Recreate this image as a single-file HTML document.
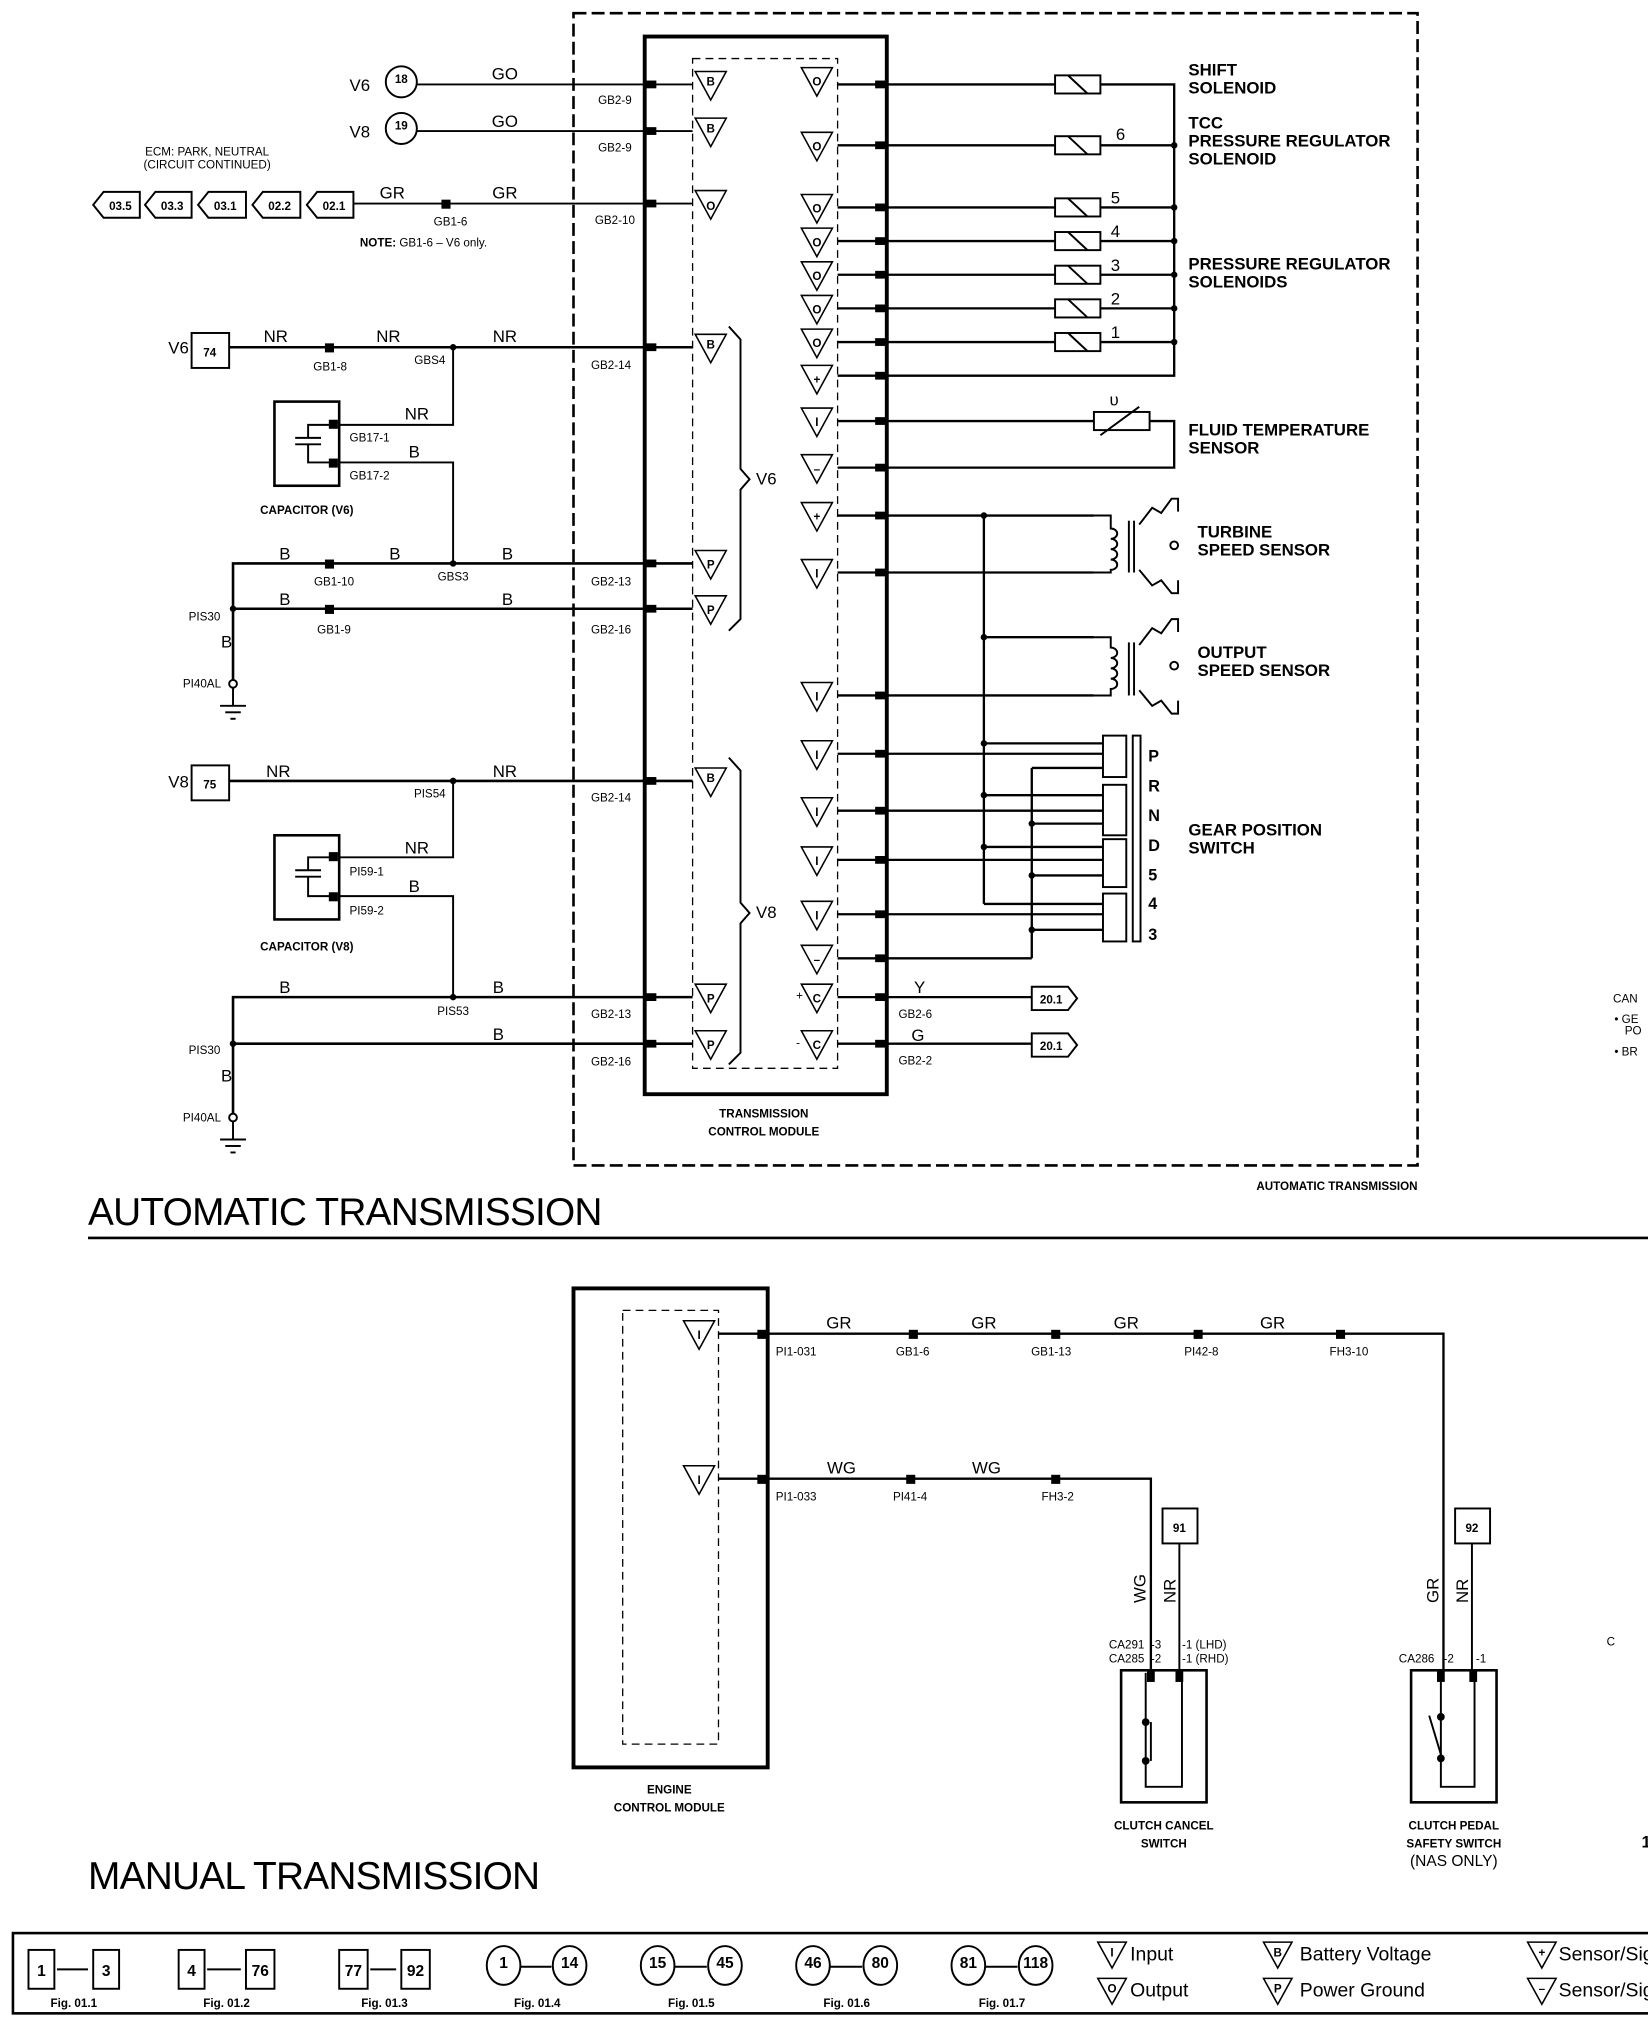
<!DOCTYPE html>
<html><head><meta charset="utf-8"><style>
html,body{margin:0;padding:0;background:#fff}
svg{display:block}
text{font-family:"Liberation Sans",sans-serif;font-weight:bold;fill:#000}
.s{font-size:9px;font-weight:normal}
.m{font-size:13px}
.l{font-size:13px}
.t{font-size:9px;font-weight:bold}
</style></head><body>
<svg width="1648" height="2024" viewBox="0 0 1273 1563" xmlns="http://www.w3.org/2000/svg">
<rect width="1273" height="1563" fill="#fff"/>
<g stroke="#000" fill="none" stroke-width="1.5">
<rect x="443" y="10" width="652" height="890" stroke-dasharray="10,4" stroke-width="2"/>
<rect x="498" y="28" width="187" height="817" stroke-width="3"/>
<rect x="535" y="45" width="112" height="780" stroke-dasharray="6,4" stroke-width="1"/>
<line x1="322" y1="65" x2="535" y2="65"/>
<line x1="322" y1="101" x2="535" y2="101"/>
<line x1="273" y1="157" x2="535" y2="157"/>
<line x1="177" y1="268" x2="535" y2="268" stroke-width="2"/>
<polyline points="262,328 350,328 350,268"/>
<polyline points="262,357 350,357 350,435"/>
<polyline points="180,525 180,435 535,435" stroke-width="2"/>
<line x1="180" y1="470" x2="535" y2="470" stroke-width="2"/>
<line x1="177" y1="603" x2="535" y2="603" stroke-width="2"/>
<polyline points="262,662 350,662 350,603"/>
<polyline points="262,692 350,692 350,770"/>
<polyline points="180,860 180,770 535,770" stroke-width="2"/>
<line x1="180" y1="806" x2="535" y2="806" stroke-width="2"/>
<circle cx="180" cy="528" r="3"/>
<line x1="180" y1="531" x2="180" y2="545"/><line x1="170" y1="545" x2="190" y2="545"/><line x1="174" y1="550" x2="186" y2="550"/><line x1="178" y1="555" x2="182" y2="555"/>
<circle cx="180" cy="863" r="3"/>
<line x1="180" y1="866" x2="180" y2="880"/><line x1="170" y1="880" x2="190" y2="880"/><line x1="174" y1="885" x2="186" y2="885"/><line x1="178" y1="890" x2="182" y2="890"/>
<rect x="212" y="310" width="50" height="65" stroke-width="2"/>
<rect x="212" y="645" width="50" height="65" stroke-width="2"/>
<polyline points="258,328 238,328 238,338"/><line x1="228" y1="338" x2="248" y2="338"/><line x1="228" y1="343" x2="248" y2="343"/><polyline points="238,343 238,357 258,357"/>
<polyline points="258,662 238,662 238,672"/><line x1="228" y1="672" x2="248" y2="672"/><line x1="228" y1="677" x2="248" y2="677"/><polyline points="238,677 238,692 258,692"/>
<circle cx="310" cy="63" r="12"/><circle cx="310" cy="99" r="12"/>
<rect x="148" y="257" width="29" height="27"/><rect x="148" y="591" width="29" height="27"/>
<polygon points="72,158 80,148 108,148 108,168 80,168"/>
<polygon points="112,158 120,148 148,148 148,168 120,168"/>
<polygon points="153,158 161,148 190,148 190,168 161,168"/>
<polygon points="195,158 203,148 232,148 232,168 203,168"/>
<polygon points="237,158 245,148 273,148 273,168 245,168"/>
<polyline points="563,252 572,262 572,362 579,370 572,378 572,478 563,487"/>
<polyline points="563,585 572,595 572,697 579,705 572,713 572,813 563,822"/>
<g stroke-width="1.8">
<polyline points="647,65 815,65"/><polyline points="850,65 907,65 907,290 647,290"/>
<line x1="647" y1="112" x2="815" y2="112"/><line x1="850" y1="112" x2="907" y2="112"/>
<line x1="647" y1="160" x2="815" y2="160"/><line x1="850" y1="160" x2="907" y2="160"/>
<line x1="647" y1="186" x2="815" y2="186"/><line x1="850" y1="186" x2="907" y2="186"/>
<line x1="647" y1="212" x2="815" y2="212"/><line x1="850" y1="212" x2="907" y2="212"/>
<line x1="647" y1="238" x2="815" y2="238"/><line x1="850" y1="238" x2="907" y2="238"/>
<line x1="647" y1="264" x2="815" y2="264"/><line x1="850" y1="264" x2="907" y2="264"/>
<line x1="647" y1="325" x2="845" y2="325"/><polyline points="888,325 907,325 907,361 647,361"/>
<line x1="647" y1="398" x2="845" y2="398"/>
<line x1="647" y1="442" x2="845" y2="442"/>
<line x1="760" y1="398" x2="760" y2="698"/>
<line x1="760" y1="492" x2="845" y2="492"/>
<line x1="647" y1="537" x2="845" y2="537"/>
<line x1="647" y1="582" x2="852" y2="582"/>
<line x1="760" y1="574" x2="852" y2="574"/>
<line x1="797" y1="593" x2="852" y2="593"/>
<line x1="797" y1="593" x2="797" y2="740"/>
<line x1="647" y1="626" x2="852" y2="626"/>
<line x1="760" y1="614" x2="852" y2="614"/>
<line x1="797" y1="636" x2="852" y2="636"/>
<line x1="647" y1="664" x2="852" y2="664"/>
<line x1="760" y1="654" x2="852" y2="654"/>
<line x1="797" y1="676" x2="852" y2="676"/>
<line x1="760" y1="698" x2="852" y2="698"/>
<line x1="647" y1="706" x2="852" y2="706"/>
<line x1="797" y1="718" x2="852" y2="718"/>
<line x1="647" y1="740" x2="797" y2="740"/>
<line x1="647" y1="770" x2="797" y2="770"/>
<line x1="647" y1="806" x2="797" y2="806"/>
</g>
<g stroke-width="1.5">
<rect x="815" y="58" width="35" height="14"/><line x1="825" y1="58" x2="840" y2="72"/>
<rect x="815" y="105" width="35" height="14"/><line x1="825" y1="105" x2="840" y2="119"/>
<rect x="815" y="153" width="35" height="14"/><line x1="825" y1="153" x2="840" y2="167"/>
<rect x="815" y="179" width="35" height="14"/><line x1="825" y1="179" x2="840" y2="193"/>
<rect x="815" y="205" width="35" height="14"/><line x1="825" y1="205" x2="840" y2="219"/>
<rect x="815" y="231" width="35" height="14"/><line x1="825" y1="231" x2="840" y2="245"/>
<rect x="815" y="257" width="35" height="14"/><line x1="825" y1="257" x2="840" y2="271"/>
<rect x="845" y="318" width="43" height="14"/><line x1="850" y1="336" x2="880" y2="314"/>
</g>
<path d="M845,398 L858,398 L858,408 a5,4 0 1 1 0,8 a5,4 0 1 1 0,8 a5,4 0 1 1 0,8 a5,4 0 1 1 0,8 L858,442 L845,442"/>
<path d="M845,492 L858,492 L858,500 a5,4 0 1 1 0,8 a5,4 0 1 1 0,8 a5,4 0 1 1 0,8 a5,4 0 1 1 0,8 L858,537 L845,537"/>
<line x1="872" y1="402" x2="872" y2="442"/><line x1="876" y1="402" x2="876" y2="442"/>
<line x1="872" y1="496" x2="872" y2="537"/><line x1="876" y1="496" x2="876" y2="537"/>
<path d="M880,405 L890,392 L897,396 L905,385 L910,385 L910,395 M880,440 L890,452 L897,448 L905,458 L910,458 L910,448"/>
<path d="M880,498 L890,485 L897,489 L905,478 L910,478 L910,488 M880,533 L890,545 L897,541 L905,551 L910,551 L910,541"/>
<circle cx="907" cy="421" r="3"/><circle cx="907" cy="514" r="3"/>
<rect x="852" y="568" width="18" height="32"/>
<rect x="852" y="606" width="18" height="39"/>
<rect x="852" y="648" width="18" height="37"/>
<rect x="852" y="690" width="18" height="37"/>
<rect x="875" y="568" width="6" height="159"/>
<polygon points="797,762 825,762 832,771 825,780 797,780"/>
<polygon points="797,798 825,798 832,807 825,816 797,816"/>
<g stroke-width="1.2">
<polygon points="537,55 561,55 549,77"/><polygon points="537,91 561,91 549,113"/><polygon points="537,147 561,147 549,169"/>
<polygon points="537,258 561,258 549,280"/><polygon points="537,425 561,425 549,447"/><polygon points="537,460 561,460 549,482"/>
<polygon points="537,593 561,593 549,615"/><polygon points="537,760 561,760 549,782"/><polygon points="537,796 561,796 549,818"/>
<polygon points="619,52 643,52 631,74"/><polygon points="619,102 643,102 631,124"/><polygon points="619,150 643,150 631,172"/>
<polygon points="619,176 643,176 631,198"/><polygon points="619,202 643,202 631,224"/><polygon points="619,228 643,228 631,250"/>
<polygon points="619,254 643,254 631,276"/><polygon points="619,282 643,282 631,304"/><polygon points="619,315 643,315 631,337"/>
<polygon points="619,351 643,351 631,373"/><polygon points="619,388 643,388 631,410"/><polygon points="619,432 643,432 631,454"/>
<polygon points="619,527 643,527 631,549"/><polygon points="619,572 643,572 631,594"/><polygon points="619,616 643,616 631,638"/>
<polygon points="619,654 643,654 631,676"/><polygon points="619,696 643,696 631,718"/><polygon points="619,730 643,730 631,752"/>
<polygon points="619,760 643,760 631,782"/><polygon points="619,796 643,796 631,818"/>
</g>
<line x1="68" y1="956" x2="1273" y2="956" stroke-width="2"/>
<rect x="443" y="995" width="150" height="370" stroke-width="3"/>
<rect x="481" y="1012" width="74" height="335" stroke-dasharray="6,4" stroke-width="1"/>
<polygon points="528,1020 552,1020 540,1042" stroke-width="1.2"/>
<polygon points="528,1132 552,1132 540,1154" stroke-width="1.2"/>
<polyline points="555,1030 1115,1030 1115,1290" stroke-width="1.8"/>
<polyline points="555,1142 889,1142 889,1290" stroke-width="1.8"/>
<rect x="898" y="1165" width="27" height="27"/><line x1="911" y1="1192" x2="911" y2="1290"/>
<rect x="1124" y="1165" width="27" height="27"/><line x1="1137" y1="1192" x2="1137" y2="1290"/>
<rect x="866" y="1290" width="66" height="102" stroke-width="2"/>
<polyline points="885,1292 885,1380 913,1380 913,1292" stroke-width="1.5"/>
<line x1="889" y1="1330" x2="889" y2="1360"/>
<rect x="1090" y="1290" width="66" height="102" stroke-width="2"/>
<polyline points="1113,1292 1113,1380 1139,1380 1139,1292" stroke-width="1.5"/>
<line x1="1104" y1="1325" x2="1113" y2="1355"/>
<rect x="10" y="1493" width="1270" height="62" stroke-width="2"/>
<rect x="22" y="1506" width="20" height="30"/><rect x="72" y="1506" width="20" height="30"/><line x1="44" y1="1521" x2="68" y2="1521"/>
<rect x="138" y="1506" width="20" height="30"/><rect x="190" y="1506" width="22" height="30"/><line x1="160" y1="1521" x2="186" y2="1521"/>
<rect x="262" y="1506" width="22" height="30"/><rect x="310" y="1506" width="22" height="30"/><line x1="286" y1="1521" x2="306" y2="1521"/>
<ellipse cx="389" cy="1518" rx="13" ry="15"/><ellipse cx="440" cy="1518" rx="13" ry="15"/><line x1="402" y1="1519" x2="426" y2="1519"/>
<ellipse cx="508" cy="1518" rx="13" ry="15"/><ellipse cx="560" cy="1518" rx="13" ry="15"/><line x1="521" y1="1519" x2="546" y2="1519"/>
<ellipse cx="628" cy="1518" rx="13" ry="15"/><ellipse cx="680" cy="1518" rx="13" ry="15"/><line x1="641" y1="1519" x2="666" y2="1519"/>
<ellipse cx="748" cy="1518" rx="13" ry="15"/><ellipse cx="800" cy="1518" rx="13" ry="15"/><line x1="761" y1="1519" x2="786" y2="1519"/>
<polygon points="848,1500 870,1500 859,1520" stroke-width="1.2"/><polygon points="848,1528 870,1528 859,1548" stroke-width="1.2"/>
<polygon points="976,1500 998,1500 987,1520" stroke-width="1.2"/><polygon points="976,1528 998,1528 987,1548" stroke-width="1.2"/>
<polygon points="1180,1500 1202,1500 1191,1520" stroke-width="1.2"/><polygon points="1180,1528 1202,1528 1191,1548" stroke-width="1.2"/>
</g>
<g fill="#000">
<rect x="499" y="62" width="8" height="6"/><rect x="499" y="98" width="8" height="6"/><rect x="499" y="154" width="8" height="6"/>
<rect x="499" y="265" width="8" height="6"/><rect x="499" y="432" width="8" height="6"/><rect x="499" y="467" width="8" height="6"/>
<rect x="499" y="600" width="8" height="6"/><rect x="499" y="767" width="8" height="6"/><rect x="499" y="803" width="8" height="6"/>
<rect x="676" y="62" width="8" height="6"/><rect x="676" y="109" width="8" height="6"/><rect x="676" y="157" width="8" height="6"/>
<rect x="676" y="183" width="8" height="6"/><rect x="676" y="209" width="8" height="6"/><rect x="676" y="235" width="8" height="6"/>
<rect x="676" y="261" width="8" height="6"/><rect x="676" y="287" width="8" height="6"/><rect x="676" y="322" width="8" height="6"/>
<rect x="676" y="358" width="8" height="6"/><rect x="676" y="395" width="8" height="6"/><rect x="676" y="439" width="8" height="6"/>
<rect x="676" y="534" width="8" height="6"/><rect x="676" y="579" width="8" height="6"/><rect x="676" y="623" width="8" height="6"/>
<rect x="676" y="661" width="8" height="6"/><rect x="676" y="703" width="8" height="6"/><rect x="676" y="737" width="8" height="6"/>
<rect x="676" y="767" width="8" height="6"/><rect x="676" y="803" width="8" height="6"/>
<rect x="341" y="154" width="7" height="7"/><rect x="251" y="265" width="7" height="7"/><rect x="251" y="432" width="7" height="7"/><rect x="251" y="467" width="7" height="7"/>
<rect x="254" y="324" width="7" height="7"/><rect x="254" y="354" width="7" height="7"/><rect x="254" y="658" width="7" height="7"/><rect x="254" y="689" width="7" height="7"/>
<circle cx="350" cy="268" r="2.5"/><circle cx="350" cy="435" r="2.5"/><circle cx="180" cy="470" r="2.5"/>
<circle cx="350" cy="603" r="2.5"/><circle cx="350" cy="770" r="2.5"/><circle cx="180" cy="806" r="2.5"/>
<circle cx="907" cy="112" r="2.5"/><circle cx="907" cy="160" r="2.5"/><circle cx="907" cy="186" r="2.5"/><circle cx="907" cy="212" r="2.5"/><circle cx="907" cy="238" r="2.5"/><circle cx="907" cy="264" r="2.5"/>
<circle cx="760" cy="398" r="2.5"/><circle cx="760" cy="492" r="2.5"/><circle cx="760" cy="574" r="2.5"/><circle cx="760" cy="614" r="2.5"/><circle cx="760" cy="654" r="2.5"/>
<circle cx="797" cy="636" r="2.5"/><circle cx="797" cy="676" r="2.5"/><circle cx="797" cy="718" r="2.5"/>
<rect x="585" y="1027" width="7" height="7"/><rect x="585" y="1139" width="7" height="7"/>
<rect x="702" y="1027" width="7" height="7"/><rect x="812" y="1027" width="7" height="7"/><rect x="922" y="1027" width="7" height="7"/><rect x="1032" y="1027" width="7" height="7"/>
<rect x="700" y="1139" width="7" height="7"/><rect x="812" y="1139" width="7" height="7"/>
<rect x="886" y="1290" width="6" height="9"/><rect x="908" y="1290" width="6" height="9"/><rect x="1110" y="1290" width="6" height="9"/><rect x="1135" y="1290" width="6" height="9"/>
<circle cx="885" cy="1330" r="3"/><circle cx="885" cy="1360" r="3"/><circle cx="1113" cy="1326" r="3"/><circle cx="1113" cy="1358" r="3"/>
</g>
<text x="270" y="70" class="m" style="font-weight:normal">V6</text>
<text x="270" y="106" class="m" style="font-weight:normal">V8</text>
<text x="310" y="64" class="t" text-anchor="middle" font-size="11">18</text>
<text x="310" y="100" class="t" text-anchor="middle" font-size="11">19</text>
<text x="390" y="61" class="m" text-anchor="middle" style="font-weight:normal">GO</text>
<text x="390" y="98" class="m" text-anchor="middle" style="font-weight:normal">GO</text>
<text x="160" y="120" class="s" text-anchor="middle">ECM: PARK, NEUTRAL</text>
<text x="160" y="130" class="s" text-anchor="middle">(CIRCUIT CONTINUED)</text>
<text x="93" y="162" class="t" text-anchor="middle">03.5</text><text x="133" y="162" class="t" text-anchor="middle">03.3</text>
<text x="174" y="162" class="t" text-anchor="middle">03.1</text><text x="216" y="162" class="t" text-anchor="middle">02.2</text><text x="258" y="162" class="t" text-anchor="middle">02.1</text>
<text x="303" y="153" class="m" text-anchor="middle" style="font-weight:normal">GR</text>
<text x="390" y="153" class="m" text-anchor="middle" style="font-weight:normal">GR</text>
<text x="348" y="174" class="s" text-anchor="middle">GB1-6</text>
<text x="278" y="190" class="s"><tspan font-weight="bold">NOTE:</tspan> GB1-6 – V6 only.</text>
<text x="475" y="80" class="s" text-anchor="middle">GB2-9</text><text x="475" y="117" class="s" text-anchor="middle">GB2-9</text>
<text x="475" y="173" class="s" text-anchor="middle">GB2-10</text>
<text x="130" y="273" class="m" style="font-weight:normal">V6</text><text x="162" y="275" class="t" text-anchor="middle" font-size="12">74</text>
<text x="213" y="264" class="m" text-anchor="middle" style="font-weight:normal">NR</text><text x="300" y="264" class="m" text-anchor="middle" style="font-weight:normal">NR</text><text x="390" y="264" class="m" text-anchor="middle" style="font-weight:normal">NR</text>
<text x="255" y="286" class="s" text-anchor="middle">GB1-8</text><text x="332" y="281" class="s" text-anchor="middle">GBS4</text><text x="472" y="285" class="s" text-anchor="middle">GB2-14</text>
<text x="322" y="324" class="m" text-anchor="middle" style="font-weight:normal">NR</text><text x="320" y="353" class="m" text-anchor="middle" style="font-weight:normal">B</text>
<text x="270" y="341" class="s">GB17-1</text><text x="270" y="370" class="s">GB17-2</text>
<text x="237" y="397" class="t" text-anchor="middle" font-size="12">CAPACITOR (V6)</text>
<text x="220" y="432" class="m" text-anchor="middle" style="font-weight:normal">B</text><text x="305" y="432" class="m" text-anchor="middle" style="font-weight:normal">B</text><text x="392" y="432" class="m" text-anchor="middle" style="font-weight:normal">B</text>
<text x="258" y="452" class="s" text-anchor="middle">GB1-10</text><text x="350" y="448" class="s" text-anchor="middle">GBS3</text><text x="472" y="452" class="s" text-anchor="middle">GB2-13</text>
<text x="220" y="467" class="m" text-anchor="middle" style="font-weight:normal">B</text><text x="392" y="467" class="m" text-anchor="middle" style="font-weight:normal">B</text>
<text x="258" y="489" class="s" text-anchor="middle">GB1-9</text><text x="472" y="489" class="s" text-anchor="middle">GB2-16</text>
<text x="158" y="479" class="s" text-anchor="middle">PIS30</text><text x="175" y="500" class="m" text-anchor="middle" style="font-weight:normal">B</text>
<text x="156" y="531" class="s" text-anchor="middle">PI40AL</text>
<text x="130" y="608" class="m" style="font-weight:normal">V8</text><text x="162" y="609" class="t" text-anchor="middle" font-size="12">75</text>
<text x="215" y="600" class="m" text-anchor="middle" style="font-weight:normal">NR</text><text x="390" y="600" class="m" text-anchor="middle" style="font-weight:normal">NR</text>
<text x="332" y="616" class="s" text-anchor="middle">PIS54</text><text x="472" y="619" class="s" text-anchor="middle">GB2-14</text>
<text x="322" y="659" class="m" text-anchor="middle" style="font-weight:normal">NR</text><text x="320" y="689" class="m" text-anchor="middle" style="font-weight:normal">B</text>
<text x="270" y="676" class="s">PI59-1</text><text x="270" y="706" class="s">PI59-2</text>
<text x="237" y="734" class="t" text-anchor="middle" font-size="12">CAPACITOR (V8)</text>
<text x="220" y="767" class="m" text-anchor="middle" style="font-weight:normal">B</text><text x="385" y="767" class="m" text-anchor="middle" style="font-weight:normal">B</text>
<text x="350" y="784" class="s" text-anchor="middle">PIS53</text><text x="472" y="786" class="s" text-anchor="middle">GB2-13</text>
<text x="385" y="803" class="m" text-anchor="middle" style="font-weight:normal">B</text><text x="472" y="823" class="s" text-anchor="middle">GB2-16</text>
<text x="158" y="814" class="s" text-anchor="middle">PIS30</text><text x="175" y="835" class="m" text-anchor="middle" style="font-weight:normal">B</text>
<text x="156" y="866" class="s" text-anchor="middle">PI40AL</text>
<text x="584" y="374" class="m" style="font-weight:normal">V6</text><text x="584" y="709" class="m" style="font-weight:normal">V8</text>
<g font-size="9" text-anchor="middle">
<text x="549" y="66">B</text><text x="549" y="102">B</text><text x="549" y="162">O</text><text x="549" y="269">B</text>
<text x="549" y="439">P</text><text x="549" y="474">P</text><text x="549" y="604">B</text><text x="549" y="774">P</text><text x="549" y="810">P</text>
<text x="631" y="66">O</text><text x="631" y="116">O</text><text x="631" y="164">O</text><text x="631" y="190">O</text><text x="631" y="216">O</text><text x="631" y="242">O</text><text x="631" y="268">O</text>
<text x="631" y="296">+</text><text x="631" y="329">I</text><text x="631" y="365">–</text><text x="631" y="402">+</text><text x="631" y="446">I</text>
<text x="631" y="541">I</text><text x="631" y="586">I</text><text x="631" y="630">I</text><text x="631" y="668">I</text><text x="631" y="710">I</text><text x="631" y="744">–</text>
<text x="631" y="774">C</text><text x="631" y="810">C</text>
<text x="540" y="1034">I</text><text x="540" y="1146">I</text>
</g>
<text x="615" y="772" class="s">+</text><text x="615" y="808" class="s">-</text>
<text x="862" y="108" class="m" style="font-weight:normal">6</text><text x="858" y="157" class="m" style="font-weight:normal">5</text>
<text x="858" y="183" class="m" style="font-weight:normal">4</text><text x="858" y="209" class="m" style="font-weight:normal">3</text>
<text x="858" y="235" class="m" style="font-weight:normal">2</text><text x="858" y="261" class="m" style="font-weight:normal">1</text>
<text x="857" y="313" class="m" style="font-weight:normal">υ</text>
<g class="l" font-size="12.5">
<text x="918" y="58">SHIFT</text><text x="918" y="72">SOLENOID</text>
<text x="918" y="99">TCC</text><text x="918" y="113">PRESSURE REGULATOR</text><text x="918" y="127">SOLENOID</text>
<text x="918" y="208">PRESSURE REGULATOR</text><text x="918" y="222">SOLENOIDS</text>
<text x="918" y="336">FLUID TEMPERATURE</text><text x="918" y="350">SENSOR</text>
<text x="925" y="415">TURBINE</text><text x="925" y="429">SPEED SENSOR</text>
<text x="925" y="508">OUTPUT</text><text x="925" y="522">SPEED SENSOR</text>
<text x="918" y="645">GEAR POSITION</text><text x="918" y="659">SWITCH</text>
</g>
<g font-size="12.5"><text x="887" y="588">P</text><text x="887" y="611">R</text><text x="887" y="634">N</text><text x="887" y="657">D</text><text x="887" y="680">5</text><text x="887" y="702">4</text><text x="887" y="726">3</text></g>
<text x="706" y="767" class="m" style="font-weight:normal">Y</text><text x="704" y="804" class="m" style="font-weight:normal">G</text>
<text x="694" y="786" class="s">GB2-6</text><text x="694" y="822" class="s">GB2-2</text>
<text x="812" y="775" class="t" text-anchor="middle" font-size="11">20.1</text><text x="812" y="811" class="t" text-anchor="middle" font-size="11">20.1</text>
<text x="590" y="863" class="t" text-anchor="middle" font-size="13">TRANSMISSION</text><text x="590" y="877" class="t" text-anchor="middle" font-size="13">CONTROL MODULE</text>
<text x="1095" y="919" class="t" text-anchor="end" font-size="12.5">AUTOMATIC TRANSMISSION</text>
<text x="1246" y="774" class="s">CAN</text><text x="1247" y="790" class="s">• GE</text><text x="1255" y="799" class="s">PO</text><text x="1247" y="815" class="s">• BR</text>
<text x="68" y="946" style="font-weight:normal;font-size:30px;letter-spacing:-0.6px">AUTOMATIC TRANSMISSION</text>
<text x="648" y="1026" class="m" text-anchor="middle" style="font-weight:normal">GR</text><text x="760" y="1026" class="m" text-anchor="middle" style="font-weight:normal">GR</text>
<text x="870" y="1026" class="m" text-anchor="middle" style="font-weight:normal">GR</text><text x="983" y="1026" class="m" text-anchor="middle" style="font-weight:normal">GR</text>
<text x="615" y="1047" class="s" text-anchor="middle">PI1-031</text><text x="705" y="1047" class="s" text-anchor="middle">GB1-6</text><text x="812" y="1047" class="s" text-anchor="middle">GB1-13</text>
<text x="928" y="1047" class="s" text-anchor="middle">PI42-8</text><text x="1042" y="1047" class="s" text-anchor="middle">FH3-10</text>
<text x="650" y="1138" class="m" text-anchor="middle" style="font-weight:normal">WG</text><text x="762" y="1138" class="m" text-anchor="middle" style="font-weight:normal">WG</text>
<text x="615" y="1159" class="s" text-anchor="middle">PI1-033</text><text x="703" y="1159" class="s" text-anchor="middle">PI41-4</text><text x="817" y="1159" class="s" text-anchor="middle">FH3-2</text>
<text x="911" y="1183" class="t" text-anchor="middle" font-size="12">91</text><text x="1137" y="1183" class="t" text-anchor="middle" font-size="12">92</text>
<text transform="translate(885,1238) rotate(-90)" class="m" style="font-weight:normal">WG</text>
<text transform="translate(908,1238) rotate(-90)" class="m" style="font-weight:normal">NR</text>
<text transform="translate(1111,1238) rotate(-90)" class="m" style="font-weight:normal">GR</text>
<text transform="translate(1134,1238) rotate(-90)" class="m" style="font-weight:normal">NR</text>
<text x="884" y="1273" class="s" text-anchor="end">CA291</text><text x="884" y="1284" class="s" text-anchor="end">CA285</text>
<text x="889" y="1273" class="s">-3</text><text x="889" y="1284" class="s">-2</text>
<text x="913" y="1273" class="s">-1 (LHD)</text><text x="913" y="1284" class="s">-1 (RHD)</text>
<text x="1108" y="1284" class="s" text-anchor="end">CA286</text><text x="1115" y="1284" class="s">-2</text><text x="1140" y="1284" class="s">-1</text>
<text x="517" y="1385" class="t" text-anchor="middle" font-size="13">ENGINE</text><text x="517" y="1399" class="t" text-anchor="middle" font-size="13">CONTROL MODULE</text>
<text x="899" y="1413" class="t" text-anchor="middle" font-size="13">CLUTCH CANCEL</text><text x="899" y="1427" class="t" text-anchor="middle" font-size="13">SWITCH</text>
<text x="1123" y="1413" class="t" text-anchor="middle" font-size="13">CLUTCH PEDAL</text><text x="1123" y="1427" class="t" text-anchor="middle" font-size="13">SAFETY SWITCH</text>
<text x="1123" y="1441" text-anchor="middle" style="font-weight:normal;font-size:12px">(NAS ONLY)</text>
<text x="1241" y="1271" class="s">C</text><text x="1268" y="1427" class="m">1</text>
<text x="68" y="1459" style="font-weight:normal;font-size:30px;letter-spacing:-0.6px">MANUAL TRANSMISSION</text>
<g font-size="12" text-anchor="middle">
<text x="32" y="1526">1</text><text x="82" y="1526">3</text><text x="148" y="1526">4</text><text x="201" y="1526">76</text>
<text x="273" y="1526">77</text><text x="321" y="1526">92</text>
<text x="389" y="1520">1</text><text x="440" y="1520">14</text><text x="508" y="1520">15</text><text x="560" y="1520">45</text>
<text x="628" y="1520">46</text><text x="680" y="1520">80</text><text x="748" y="1520">81</text><text x="800" y="1520">118</text>
</g>
<g class="s" text-anchor="middle" font-size="10">
<text x="57" y="1550">Fig. 01.1</text><text x="175" y="1550">Fig. 01.2</text><text x="297" y="1550">Fig. 01.3</text>
<text x="415" y="1550">Fig. 01.4</text><text x="534" y="1550">Fig. 01.5</text><text x="654" y="1550">Fig. 01.6</text><text x="774" y="1550">Fig. 01.7</text>
</g>
<g font-size="9" text-anchor="middle"><text x="859" y="1511">I</text><text x="859" y="1539">O</text><text x="987" y="1511">B</text><text x="987" y="1539">P</text><text x="1191" y="1511">+</text><text x="1191" y="1539">–</text></g>
<g style="font-family:'Liberation Serif',serif;font-weight:normal;font-size:15px">
<text x="873" y="1514" style="font-weight:normal">Input</text><text x="873" y="1542" style="font-weight:normal">Output</text>
<text x="1004" y="1514" style="font-weight:normal">Battery Voltage</text><text x="1004" y="1542" style="font-weight:normal">Power Ground</text>
<text x="1204" y="1514" style="font-weight:normal">Sensor/Sig</text><text x="1204" y="1542" style="font-weight:normal">Sensor/Sig</text>
</g>
</svg>
</body></html>
